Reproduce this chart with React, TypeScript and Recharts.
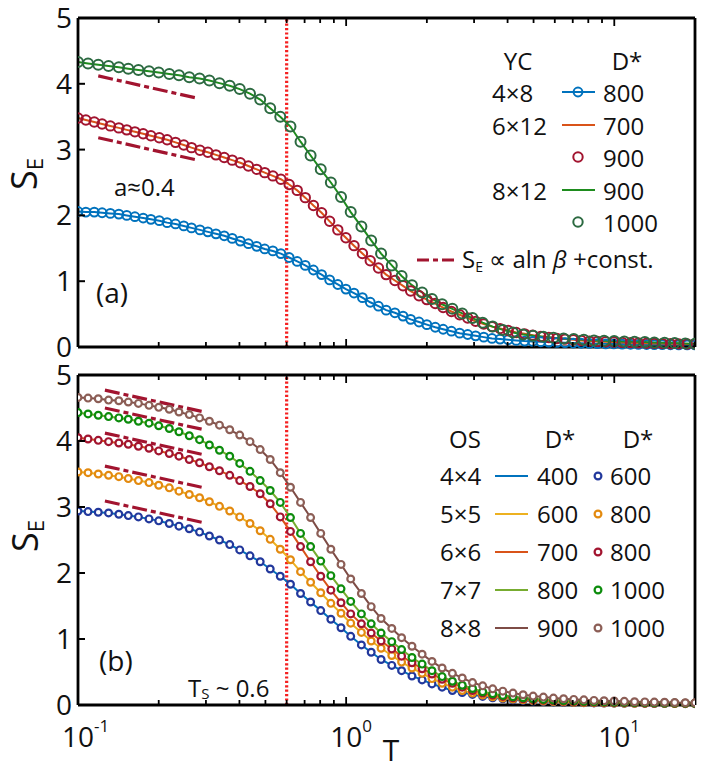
import React from "react";
import { LineChart, Line, XAxis, YAxis, ReferenceLine } from "recharts";

const FONT = "'Open Sans', 'Noto Sans', sans-serif";

// temperature grids (log spaced)
const tGrid = [
  0.1, 0.109, 0.119, 0.13, 0.142, 0.154, 0.168, 0.184, 0.2, 0.219, 0.238, 0.26, 0.284, 0.309, 0.337, 0.368,
  0.401, 0.438, 0.478, 0.521, 0.568, 0.62, 0.676, 0.737, 0.804, 0.877, 0.957, 1.04, 1.14, 1.24, 1.35, 1.48,
  1.61, 1.76, 1.92, 2.09, 2.28, 2.49, 2.71, 2.96, 3.23, 3.52, 3.84, 4.19, 4.57, 4.98, 5.44, 5.93, 6.47, 7.06,
  7.7, 8.4, 9.16, 9.99, 10.9, 11.9, 13.0, 14.1, 15.4, 16.8, 18.4, 20.0,
];
const tFine = [
  0.1, 0.107, 0.115, 0.123, 0.132, 0.142, 0.152, 0.163, 0.175, 0.187, 0.201, 0.215, 0.231, 0.248, 0.265, 0.285,
  0.305, 0.327, 0.351, 0.376, 0.403, 0.432, 0.464, 0.497, 0.533, 0.571, 0.613, 0.657, 0.704, 0.755, 0.81, 0.868,
  0.931, 0.998, 1.07, 1.15, 1.23, 1.32, 1.41, 1.52, 1.63, 1.74, 1.87, 2.0, 2.15, 2.3, 2.47, 2.65, 2.84, 3.04,
  3.26, 3.5, 3.75, 4.02, 4.31, 4.63, 4.96, 5.32, 5.7, 6.11, 6.55, 7.03, 7.53, 8.08, 8.66, 9.29, 9.96, 10.7, 11.5,
  12.3, 13.2, 14.1, 15.1, 16.2, 17.4, 18.7, 20.0,
];

// (a) YC cylinders
const yc4x8 = [
  2.06, 2.05, 2.05, 2.04, 2.03, 2.02, 2.0, 1.98, 1.96, 1.94, 1.92, 1.89, 1.87, 1.84, 1.81, 1.78, 1.75, 1.72, 1.69,
  1.65, 1.61, 1.57, 1.53, 1.49, 1.46, 1.42, 1.36, 1.3, 1.24, 1.17, 1.1, 1.02, 0.95, 0.88, 0.82, 0.75, 0.68, 0.62,
  0.56, 0.52, 0.47, 0.42, 0.38, 0.34, 0.3, 0.27, 0.24, 0.21, 0.19, 0.17, 0.15, 0.13, 0.12, 0.11, 0.1, 0.09, 0.085,
  0.08, 0.075, 0.07, 0.065, 0.06, 0.057, 0.054, 0.051, 0.048, 0.046, 0.044, 0.042, 0.04, 0.038, 0.036, 0.035,
  0.034, 0.033, 0.032, 0.031,
];
const yc6x12 = [
  3.48, 3.45, 3.42, 3.39, 3.36, 3.33, 3.3, 3.27, 3.24, 3.21, 3.18, 3.15, 3.11, 3.07, 3.03, 2.99, 2.96, 2.92, 2.88,
  2.84, 2.8, 2.75, 2.7, 2.65, 2.6, 2.55, 2.47, 2.38, 2.27, 2.15, 2.04, 1.91, 1.78, 1.66, 1.54, 1.42, 1.31, 1.2,
  1.1, 1.01, 0.93, 0.85, 0.78, 0.72, 0.66, 0.6, 0.54, 0.49, 0.44, 0.39, 0.35, 0.31, 0.28, 0.25, 0.22, 0.2, 0.18,
  0.16, 0.145, 0.13, 0.12, 0.11, 0.1, 0.09, 0.085, 0.08, 0.075, 0.07, 0.066, 0.062, 0.058, 0.055, 0.052, 0.05,
  0.048, 0.046, 0.045,
];
const yc8x12 = [
  4.33, 4.31, 4.29, 4.27, 4.25, 4.23, 4.21, 4.19, 4.17, 4.15, 4.13, 4.1, 4.08, 4.05, 4.01, 3.97, 3.92, 3.85, 3.76,
  3.63, 3.5, 3.35, 3.12, 2.91, 2.7, 2.5, 2.28, 2.05, 1.83, 1.62, 1.42, 1.24, 1.08, 0.94, 0.83, 0.73, 0.65, 0.58,
  0.51, 0.44, 0.37, 0.31, 0.26, 0.22, 0.19, 0.17, 0.155, 0.14, 0.13, 0.12, 0.11, 0.1, 0.095, 0.09, 0.085, 0.08,
  0.075, 0.07, 0.065, 0.06, 0.055, 0.05,
];

// (b) OS clusters
const os4x4 = [
  2.94, 2.93, 2.92, 2.91, 2.89, 2.87, 2.85, 2.82, 2.79, 2.75, 2.71, 2.67, 2.62, 2.56, 2.5, 2.43, 2.35, 2.26, 2.17,
  2.06, 1.95, 1.83, 1.69, 1.56, 1.43, 1.3, 1.17, 1.04, 0.91, 0.8, 0.69, 0.6, 0.52, 0.44, 0.38, 0.32, 0.27, 0.22,
  0.19, 0.16, 0.13, 0.11, 0.095, 0.08, 0.07, 0.06, 0.053, 0.047, 0.042, 0.038, 0.035, 0.032, 0.03, 0.028, 0.026,
  0.025, 0.024, 0.023, 0.022, 0.021, 0.02, 0.02,
];
const os5x5 = [
  3.53, 3.52, 3.5, 3.48, 3.46, 3.43, 3.4, 3.37, 3.33, 3.29, 3.24, 3.19, 3.14, 3.08, 3.01, 2.94, 2.85, 2.75, 2.64,
  2.51, 2.36, 2.2, 2.02, 1.86, 1.7, 1.54, 1.39, 1.24, 1.1, 0.97, 0.86, 0.75, 0.65, 0.56, 0.48, 0.4, 0.33, 0.27,
  0.22, 0.18, 0.15, 0.125, 0.105, 0.09, 0.078, 0.068, 0.06, 0.053, 0.047, 0.042, 0.038, 0.035, 0.032, 0.03, 0.028,
  0.027, 0.026, 0.025, 0.024, 0.023, 0.022, 0.021,
];
const os6x6 = [
  4.05, 4.03, 4.01, 3.99, 3.97, 3.95, 3.92, 3.89, 3.85, 3.81, 3.77, 3.72, 3.67, 3.61, 3.55, 3.48, 3.4, 3.31, 3.2,
  3.05, 2.85, 2.63, 2.4, 2.17, 1.95, 1.74, 1.55, 1.38, 1.23, 1.09, 0.97, 0.85, 0.74, 0.64, 0.55, 0.47, 0.39, 0.33,
  0.27, 0.22, 0.18, 0.15, 0.13, 0.11, 0.095, 0.083, 0.073, 0.065, 0.058, 0.052, 0.047, 0.043, 0.04, 0.037, 0.035,
  0.033, 0.031, 0.03, 0.029, 0.028, 0.027, 0.026,
];
const os7x7 = [
  4.43, 4.41, 4.39, 4.37, 4.35, 4.33, 4.3, 4.27, 4.23, 4.19, 4.14, 4.08, 4.02, 3.94, 3.86, 3.77, 3.66, 3.54, 3.4,
  3.25, 3.07, 2.84, 2.6, 2.4, 2.18, 1.96, 1.76, 1.57, 1.38, 1.23, 1.09, 0.96, 0.84, 0.72, 0.62, 0.52, 0.43, 0.36,
  0.3, 0.25, 0.2, 0.17, 0.145, 0.125, 0.11, 0.095, 0.085, 0.075, 0.068, 0.062, 0.056, 0.051, 0.047, 0.043, 0.04,
  0.037, 0.035, 0.033, 0.031, 0.029, 0.028, 0.027,
];
const os8x8 = [
  4.66, 4.65, 4.64, 4.62, 4.61, 4.59, 4.57, 4.54, 4.51, 4.48, 4.44, 4.4, 4.35, 4.3, 4.24, 4.17, 4.09, 3.99, 3.87,
  3.72, 3.52, 3.3, 3.07, 2.84, 2.6, 2.36, 2.13, 1.91, 1.69, 1.49, 1.31, 1.16, 1.02, 0.89, 0.77, 0.66, 0.56, 0.48,
  0.41, 0.34, 0.29, 0.245, 0.21, 0.18, 0.155, 0.135, 0.12, 0.105, 0.095, 0.085, 0.078, 0.07, 0.065, 0.06, 0.055,
  0.05, 0.047, 0.044, 0.041, 0.038, 0.035, 0.033,
];

// S_E ~ a ln(beta) + const guides, a ~ 0.4
const guideTA = [0.119, 0.279];
const guideA1 = [4.12, 3.78];
const guideA2 = [3.18, 2.84];
const guideTB = [0.126, 0.296];
const guideB = [
  [4.77, 4.44],
  [4.5, 4.17],
  [4.12, 3.79],
  [3.62, 3.29],
  [3.09, 2.76],
];

const tS = 0.6;
const xTicks = [0.1, 0.2, 0.3, 0.4, 0.5, 0.6, 0.7, 0.8, 0.9, 1, 2, 3, 4, 5, 6, 7, 8, 9, 10];
const majorX = [0.1, 1, 10];
const yTicks = [0, 1, 2, 3, 4, 5];

const rows = (ts: number[], vs: number[]) => ts.map((t, i) => ({ t, s: vs[i] }));

const C = {
  blue: "#0072BD",
  orange: "#D95319",
  crimson: "#A2142F",
  green: "#1E8C1E",
  darkGreen: "#2C6A41",
  navy: "#22389C",
  yellow: "#EDB120",
  amber: "#E38A0F",
  lime: "#77AC30",
  kelly: "#0C8C0C",
  brown: "#7E4C46",
  rose: "#8C5E56",
  dash: "#A2142F",
  ts: "#F52020",
};

const axisLine = { stroke: "#000", strokeWidth: 2.8 };
const DASHDOT = "15 4 5 4";

const BottomTick = (p: any, labels: boolean) => {
  const { x, y, payload } = p;
  const major = majorX.includes(payload.value);
  const len = major ? 8 : 5;
  const exp = Math.round(Math.log10(payload.value));
  return (
    <g>
      <line x1={x} x2={x} y1={y} y2={y - len} stroke="#000" strokeWidth={1.8} />
      {labels && major && (
        <>
          <text x={x} y={y + 42} textAnchor="middle" fontSize={28} fontFamily={FONT} fill="#111">
            10
          </text>
          <text x={x + 16} y={y + 27} fontSize={17} fontFamily={FONT} fill="#111">
            {exp}
          </text>
        </>
      )}
    </g>
  );
};

const TopTick = (p: any) => {
  const { x, y, payload } = p;
  const len = majorX.includes(payload.value) ? 8 : 5;
  return <line x1={x} x2={x} y1={y} y2={y + len} stroke="#000" strokeWidth={1.8} />;
};

const LeftTick = (p: any) => {
  const { x, y, payload } = p;
  return (
    <g>
      <line x1={x} x2={x + 7} y1={y} y2={y} stroke="#000" strokeWidth={2} />
      <text x={x - 6} y={y} dy="0.36em" textAnchor="end" fontSize={28} fontFamily={FONT} fill="#111">
        {payload.value}
      </text>
    </g>
  );
};

const RightTick = (p: any) => {
  const { x, y } = p;
  return <line x1={x} x2={x - 7} y1={y} y2={y} stroke="#000" strokeWidth={2} />;
};

const Frame = (labels: boolean) => [
  <XAxis
    key="xb"
    dataKey="t"
    type="number"
    scale="log"
    domain={[0.1, 20]}
    allowDataOverflow
    ticks={xTicks}
    interval={0}
    height={1}
    tickSize={0}
    tickMargin={0}
    tickLine={false}
    axisLine={axisLine}
    tick={(p: any) => BottomTick(p, labels)}
  />,
  <XAxis
    key="xt"
    xAxisId="top"
    orientation="top"
    dataKey="t"
    type="number"
    scale="log"
    domain={[0.1, 20]}
    allowDataOverflow
    ticks={xTicks}
    interval={0}
    height={1}
    tickSize={0}
    tickMargin={0}
    tickLine={false}
    axisLine={axisLine}
    tick={TopTick}
  />,
  <YAxis
    key="yl"
    type="number"
    domain={[0, 5]}
    ticks={yTicks}
    interval={0}
    width={78}
    tickSize={0}
    tickMargin={0}
    tickLine={false}
    axisLine={axisLine}
    tick={LeftTick}
  />,
  <YAxis
    key="yr"
    yAxisId="right"
    orientation="right"
    type="number"
    domain={[0, 5]}
    ticks={yTicks}
    interval={0}
    width={1}
    tickSize={0}
    tickMargin={0}
    tickLine={false}
    axisLine={axisLine}
    tick={RightTick}
  />,
  <ReferenceLine key="ts" x={tS} stroke={C.ts} strokeWidth={3.2} strokeDasharray="2.2 2.2" />,
];

const curve = (key: string, data: any[], color: string, width = 2) => (
  <Line
    key={key}
    data={data}
    dataKey="s"
    stroke={color}
    strokeWidth={width}
    dot={false}
    activeDot={false}
    isAnimationActive={false}
  />
);

const dots = (key: string, data: any[], color: string, r: number, fill: string, sw = 2) => (
  <Line
    key={key}
    data={data}
    dataKey="s"
    stroke="none"
    strokeWidth={0}
    dot={{ r, stroke: color, strokeWidth: sw, fill }}
    activeDot={false}
    isAnimationActive={false}
  />
);

const guide = (key: string, vs: number[], ts: number[]) => (
  <Line
    key={key}
    data={rows(ts, vs)}
    dataKey="s"
    stroke={C.dash}
    strokeWidth={3.2}
    strokeDasharray={DASHDOT}
    dot={false}
    activeDot={false}
    isAnimationActive={false}
  />
);

// plot box: x 78..695, panel (a) y 18..347, panel (b) y 375..705
const PanelA = () => (
  <LineChart width={706} height={362} margin={{ top: 17, right: 10, bottom: 14, left: 0 }}>
    {Frame(false)}
    {curve("b-l", rows(tFine, yc4x8), C.blue)}
    {dots("b-d", rows(tFine, yc4x8), C.blue, 4.4, "none")}
    {curve("o-l", rows(tFine, yc6x12), C.orange)}
    {dots("r-d", rows(tFine, yc6x12), C.crimson, 4.7, "none")}
    {curve("g-l", rows(tGrid, yc8x12), C.green)}
    {dots("g-d", rows(tGrid, yc8x12), C.darkGreen, 5, "none")}
    {guide("ga1", guideA1, guideTA)}
    {guide("ga2", guideA2, guideTA)}
  </LineChart>
);

const osSeries = [
  { key: "44", vals: os4x4, line: C.blue, dot: C.navy },
  { key: "55", vals: os5x5, line: C.yellow, dot: C.amber },
  { key: "66", vals: os6x6, line: C.orange, dot: C.crimson },
  { key: "77", vals: os7x7, line: C.lime, dot: C.kelly },
  { key: "88", vals: os8x8, line: C.brown, dot: C.rose },
];

const PanelB = () => (
  <LineChart width={706} height={426} margin={{ top: 34, right: 10, bottom: 60, left: 0 }}>
    {Frame(true)}
    {osSeries.map((s) => [
      curve("l" + s.key, rows(tGrid, s.vals), s.line, 2),
      dots("d" + s.key, rows(tGrid, s.vals), s.dot, 3.4, "#fff", 2.2),
    ])}
    {guideB.map((g, i) => guide("gb" + i, g, guideTB))}
  </LineChart>
);

const T = (props: any) => <text fontFamily={FONT} fill="#111" {...props} />;

const Overlay = () => (
  <svg
    width={706}
    height={766}
    style={{ position: "absolute", left: 0, top: 0, pointerEvents: "none" }}
  >
    {/* axis titles */}
    <T transform="translate(37,174) rotate(-90)" textAnchor="middle" fontSize={36}>
      S<tspan fontSize={22} dy={6}>E</tspan>
    </T>
    <T transform="translate(38,536) rotate(-90)" textAnchor="middle" fontSize={36}>
      S<tspan fontSize={22} dy={6}>E</tspan>
    </T>
    <T x={391} y={761} textAnchor="middle" fontSize={30}>
      T
    </T>

    {/* annotations */}
    <T x={114} y={196} fontSize={24}>a≈0.4</T>
    <T x={96} y={303} fontSize={28}>(a)</T>
    <T x={99} y={671} fontSize={28}>(b)</T>
    <T x={188} y={697} fontSize={24}>
      T<tspan fontSize={15} dy={2}>S</tspan>
      <tspan dy={-2}> ~ 0.6</tspan>
    </T>

    {/* legend (a) */}
    <T x={518} y={70} textAnchor="middle" fontSize={24}>YC</T>
    <T x={627} y={70} textAnchor="middle" fontSize={24}>D*</T>
    <T x={492} y={102} fontSize={24}>4×8</T>
    <line x1={562} x2={595} y1={92} y2={92} stroke={C.blue} strokeWidth={2} />
    <circle cx={578} cy={92} r={4.4} stroke={C.blue} strokeWidth={2} fill="none" />
    <T x={603} y={102} fontSize={24}>800</T>
    <T x={492} y={135} fontSize={24}>6×12</T>
    <line x1={562} x2={595} y1={125} y2={125} stroke={C.orange} strokeWidth={2} />
    <T x={603} y={135} fontSize={24}>700</T>
    <circle cx={578} cy={157} r={4.7} stroke={C.crimson} strokeWidth={2} fill="none" />
    <T x={603} y={167} fontSize={24}>900</T>
    <T x={492} y={200} fontSize={24}>8×12</T>
    <line x1={562} x2={595} y1={190} y2={190} stroke={C.green} strokeWidth={2} />
    <T x={603} y={200} fontSize={24}>900</T>
    <circle cx={578} cy={222} r={4.7} stroke={C.darkGreen} strokeWidth={2} fill="none" />
    <T x={603} y={232} fontSize={24}>1000</T>
    <line x1={417} x2={458} y1={260} y2={260} stroke={C.dash} strokeWidth={3.2} strokeDasharray="12 4 5 4" />
    <T x={462} y={268} fontSize={24}>
      S<tspan fontSize={14} dy={4}>E</tspan>
      <tspan dy={-4}> ∝ aln </tspan>
      <tspan fontStyle="italic">β</tspan>
      <tspan> +const.</tspan>
    </T>

    {/* legend (b) */}
    <T x={465} y={448} textAnchor="middle" fontSize={24}>OS</T>
    <T x={560} y={448} textAnchor="middle" fontSize={24}>D*</T>
    <T x={638} y={448} textAnchor="middle" fontSize={24}>D*</T>
    {[
      ["4×4", "400", "600"],
      ["5×5", "600", "800"],
      ["6×6", "700", "800"],
      ["7×7", "800", "1000"],
      ["8×8", "900", "1000"],
    ].map((r, i) => {
      const y = 485 + i * 38;
      const s = osSeries[i];
      return (
        <g key={r[0]}>
          <T x={440} y={y} fontSize={24}>{r[0]}</T>
          <line x1={495} x2={528} y1={y - 9} y2={y - 9} stroke={s.line} strokeWidth={2} />
          <T x={537} y={y} fontSize={24}>{r[1]}</T>
          <circle cx={598} cy={y - 9} r={3.4} stroke={s.dot} strokeWidth={2.2} fill="#fff" />
          <T x={610} y={y} fontSize={24}>{r[2]}</T>
        </g>
      );
    })}
  </svg>
);

export default function App() {
  return (
    <div
      style={{
        position: "absolute",
        left: 0,
        top: 0,
        width: 706,
        height: 766,
        background: "#fff",
        fontFamily: FONT,
        overflow: "hidden",
      }}
    >
      <div style={{ position: "absolute", left: 0, top: 0 }}>
        <PanelA />
      </div>
      <div style={{ position: "absolute", left: 0, top: 340 }}>
        <PanelB />
      </div>
      <Overlay />
    </div>
  );
}
